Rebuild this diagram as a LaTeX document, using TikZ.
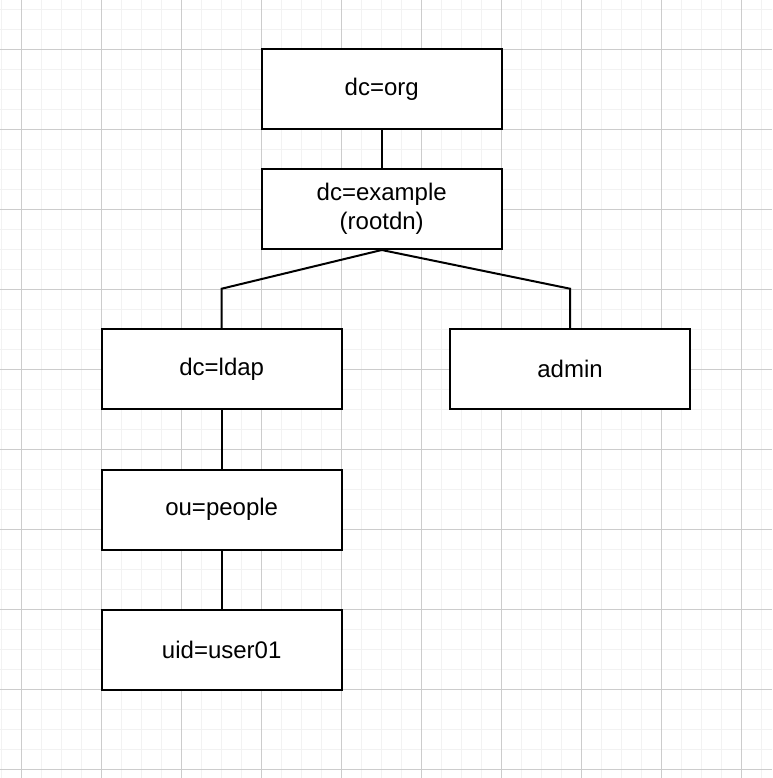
\documentclass[tikz,border=0pt]{standalone}
\usepackage{fontspec}
\setmainfont{Liberation Sans}
\tikzset{
	entry/.style={draw, line width=1.5pt, fill=white, minimum width=180pt, minimum height=60pt, inner sep=0pt, align=center, font=\fontsize{18}{21.6}\selectfont},
	link/.style={line width=1.5pt},
	minorgrid/.style={gray!10, line width=0.75pt},
	majorgrid/.style={gray!40, line width=0.75pt}
}
\begin{document}
\begin{tikzpicture}[x=0.75pt, y=-0.75pt]
		\useasboundingbox (0,0) rectangle (772,778);
		% grid
		\foreach \x in {1.7,21.7,...,772} \draw[minorgrid] (\x,0) -- (\x,778);
		\foreach \y in {9.3,29.3,...,778} \draw[minorgrid] (0,\y) -- (772,\y);
		\foreach \x in {21.7,101.7,...,772} \draw[majorgrid] (\x,0) -- (\x,778);
		\foreach \y in {49.3,129.3,...,778} \draw[majorgrid] (0,\y) -- (772,\y);
		% tree
		\node[entry] (org) at (381.7,89) {dc=org};
		\node[entry] (example) at (381.7,209) {dc=example\\(rootdn)};
		\node[entry] (ldap) at (221.7,369) {dc=ldap};
		\node[entry] (admin) at (570,369) {admin};
		\node[entry] (people) at (221.7,509.7) {ou=people};
		\node[entry] (user) at (221.7,649.7) {uid=user01};
		\coordinate (lbend) at (221.7,288.7);
		\coordinate (rbend) at (570,288.7);
		\draw[link] (org) -- (example);
		\draw[link] (example.south) -- (lbend) -- (ldap.north);
		\draw[link] (example.south) -- (rbend) -- (admin.north);
		\draw[link] (ldap) -- (people);
		\draw[link] (people) -- (user);
	\end{tikzpicture}
\end{document}
